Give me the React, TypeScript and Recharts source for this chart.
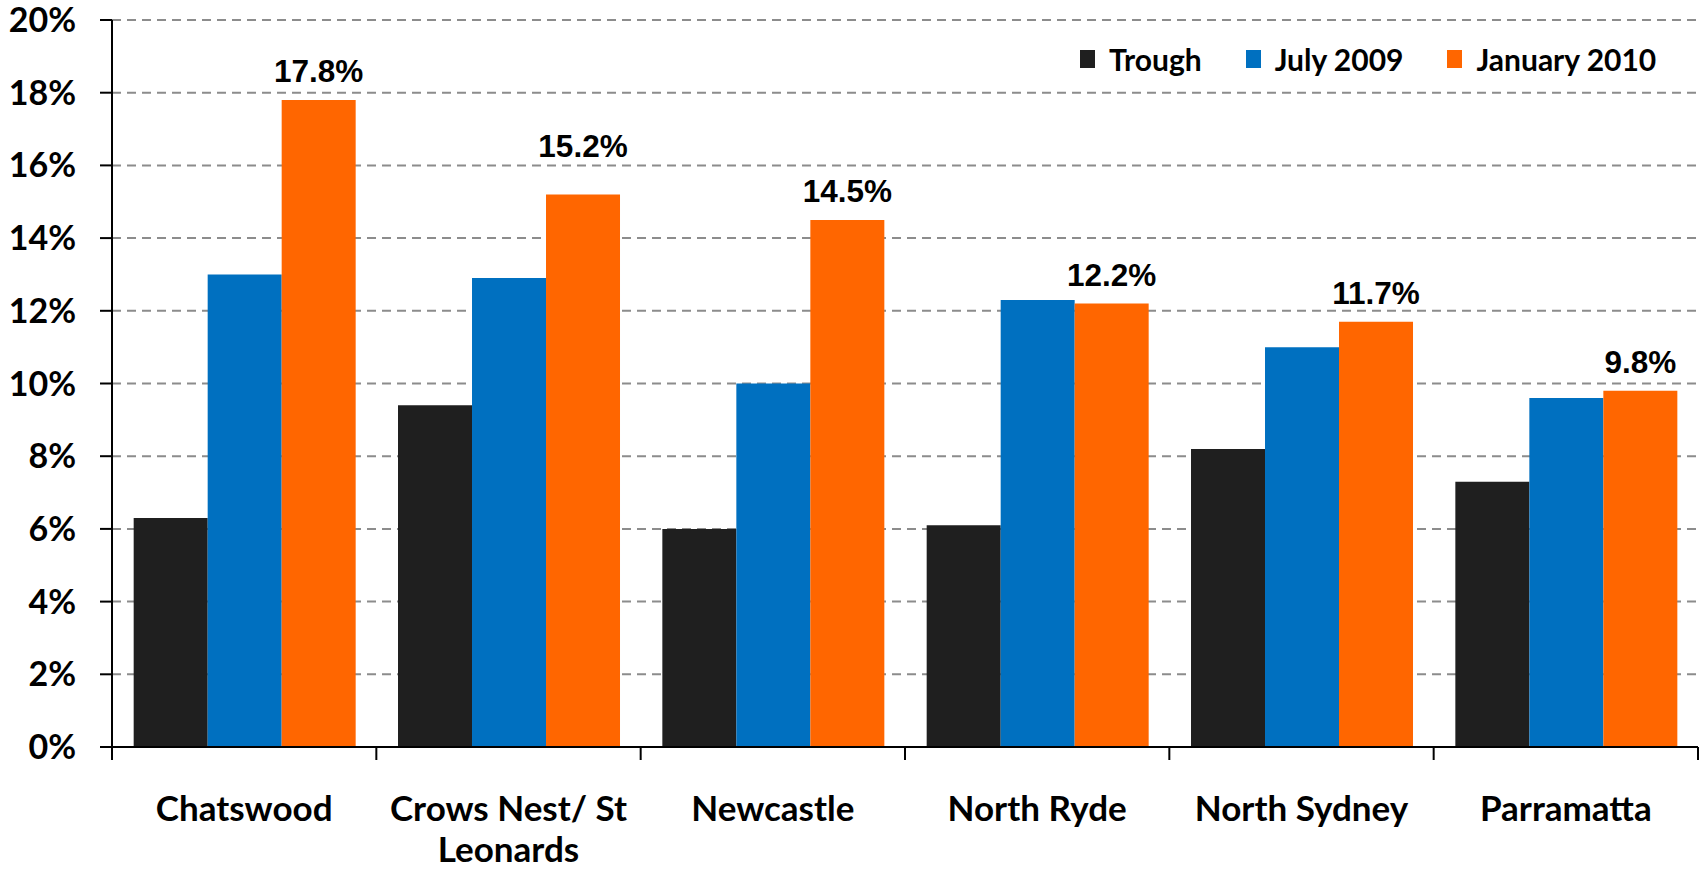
import React from 'react';
import { BarChart, Bar, XAxis, YAxis, CartesianGrid, Legend, LabelList } from 'recharts';

const categories = ['Chatswood', 'Crows Nest/ St Leonards', 'Newcastle', 'North Ryde', 'North Sydney', 'Parramatta'];
const categoryLines = [['Chatswood'], ['Crows Nest/ St', 'Leonards'], ['Newcastle'], ['North Ryde'], ['North Sydney'], ['Parramatta']];
const trough = [6.3, 9.4, 6.0, 6.1, 8.2, 7.3];
const july2009 = [13.0, 12.9, 10.0, 12.3, 11.0, 9.6];
const january2010 = [17.8, 15.2, 14.5, 12.2, 11.7, 9.8];
const yTicks = [0, 2, 4, 6, 8, 10, 12, 14, 16, 18, 20];

const seriesNames = ['Trough', 'July 2009', 'January 2010'];
const seriesColors = ['#1f1f1f', '#0070c0', '#ff6600'];

// extra lift for a hand-placed label in the original
const labelExtraLift: Record<string, number> = { 'Crows Nest/ St Leonards': 19 };

const data = categories.map((c, i) => ({
  name: c,
  trough: trough[i],
  july: july2009[i],
  jan: january2010[i],
}));

const CategoryTick = (props: any) => {
  const { x, y, payload, index } = props;
  const off = payload && payload.offset ? payload.offset : 0;
  const lines = categoryLines[index] || [String(payload.value)];
  return (
    <g>
      <line x1={x - off} x2={x - off} y1={y} y2={y + 13} stroke="#000" strokeWidth={2} />
      {index === categories.length - 1 && (
        <line x1={x + off} x2={x + off} y1={y} y2={y + 13} stroke="#000" strokeWidth={2} />
      )}
      <text x={x} y={y + 74} textAnchor="middle" fontFamily="Lato" fontWeight="bold" fontSize={35} fill="#000">
        {lines.map((l: string, i: number) => (
          <tspan key={i} x={x} dy={i === 0 ? 0 : 41}>
            {l}
          </tspan>
        ))}
      </text>
    </g>
  );
};

const TopLabel = (props: any) => {
  const { x, y, width, value, index } = props;
  const lift = 18 + (labelExtraLift[categories[index]] || 0);
  return (
    <text
      x={x + width / 2}
      y={y - lift}
      textAnchor="middle"
      fontFamily="'Liberation Sans', Arial, sans-serif"
      fontWeight="bold"
      fontSize={31.5}
      fill="#000"
    >
      {Number(value).toFixed(1)}%
    </text>
  );
};

const LegendContent = () => (
  <div style={{ display: 'flex', alignItems: 'center', fontFamily: 'Lato', fontWeight: 'bold', fontSize: 30, color: '#000' }}>
    {seriesNames.map((n, i) => (
      <div key={n} style={{ display: 'flex', alignItems: 'center', marginRight: i < seriesNames.length - 1 ? 44 : 0 }}>
        <div style={{ width: 15, height: 18, background: seriesColors[i], marginRight: 14 }} />
        <span style={{ lineHeight: '30px' }}>{n}</span>
      </div>
    ))}
  </div>
);

export default function App() {
  return (
    <div style={{ position: 'absolute', left: 0, top: 0, width: 1704, height: 871, background: '#fff' }}>
      <BarChart
        width={1704}
        height={871}
        data={data}
        margin={{ top: 20, right: 6, left: 0, bottom: 0 }}
        barCategoryGap="8.2%"
        barGap={0}
      >
        <CartesianGrid vertical={false} stroke="#8c8c8c" strokeDasharray="9 6" strokeWidth={2} />
        <XAxis
          dataKey="name"
          height={124}
          tickLine={false}
          tickSize={0}
          tickMargin={0}
          interval={0}
          axisLine={{ stroke: '#000', strokeWidth: 2 }}
          tick={<CategoryTick />}
        />
        <YAxis
          width={112}
          domain={[0, 20]}
          ticks={yTicks}
          interval={0}
          tickFormatter={(v: number) => `${v}%`}
          tickSize={12}
          tickMargin={24}
          axisLine={{ stroke: '#000', strokeWidth: 2 }}
          tickLine={{ stroke: '#000', strokeWidth: 2 }}
          tick={{ fontFamily: 'Lato', fontWeight: 'bold', fontSize: 34, fill: '#000' }}
        />
        <Legend
          layout="vertical"
          align="center"
          verticalAlign="middle"
          content={<LegendContent />}
          wrapperStyle={{ position: 'absolute', top: 44, left: 1080, width: 620, height: 30 }}
        />
        <Bar dataKey="trough" name="Trough" fill={seriesColors[0]} isAnimationActive={false} />
        <Bar dataKey="july" name="July 2009" fill={seriesColors[1]} isAnimationActive={false} />
        <Bar dataKey="jan" name="January 2010" fill={seriesColors[2]} isAnimationActive={false}>
          <LabelList dataKey="jan" content={<TopLabel />} />
        </Bar>
      </BarChart>
    </div>
  );
}
